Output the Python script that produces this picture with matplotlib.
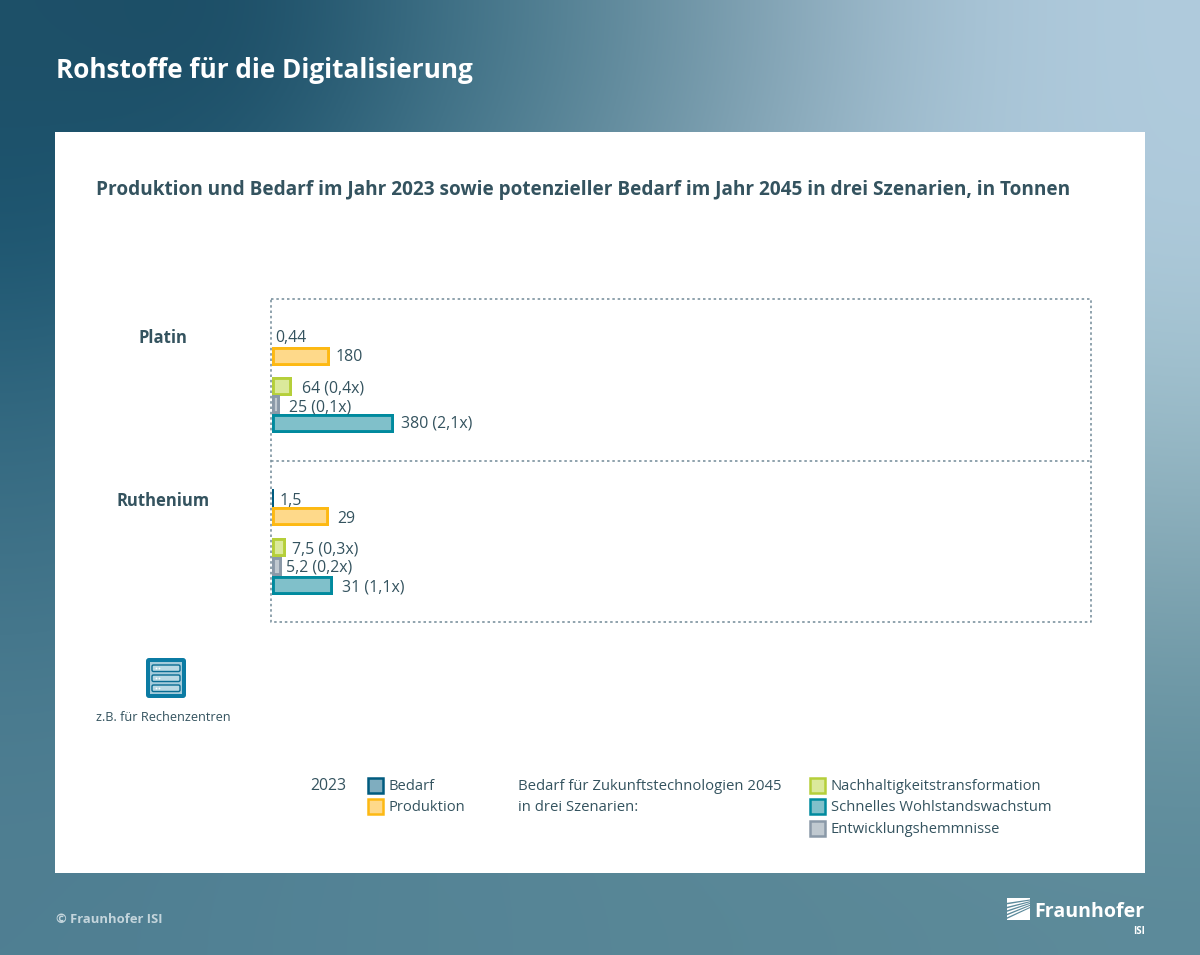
import numpy as np
import matplotlib
matplotlib.use("Agg")
import matplotlib.pyplot as plt
from matplotlib.patches import Rectangle, FancyBboxPatch, Polygon

plt.rcParams['font.family'] = ['Open Sans', 'DejaVu Sans']

# ---- data ----
metals = ["Platin", "Ruthenium"]
series = ["Bedarf", "Produktion", "Nachhaltigkeitstransformation", "Entwicklungshemmnisse", "Schnelles Wohlstandswachstum"]
platin_values = [0.44, 180, 64, 25, 380]
ruthenium_values = [1.5, 29, 7.5, 5.2, 31]
platin_labels = ["0,44", "180", "64 (0,4x)", "25 (0,1x)", "380 (2,1x)"]
ruthenium_labels = ["1,5", "29", "7,5 (0,3x)", "5,2 (0,2x)", "31 (1,1x)"]

# ---- style ----
W, H = 1200, 955
TXT = "#34535f"
edges = ["#005b7f", "#fdb913", "#b5cf3a", "#8a99a8", "#008a9e"]
faces = ["#7fadbf", "#fed98a", "#dbe99b", "#c0c9d0", "#80c0ca"]
platin_y = [338, 356, 386, 404.5, 423]
ruthenium_y = [498.5, 517, 548, 567, 586]
platin_off = [4, 6, 10, 9, 7]
ruthenium_off = [5, 8, 6, 4, 9]
platin_dy = [0, 1, 2, 2.5, 0]
ruthenium_dy = [2.5, 2, 2, 1, 2]

fig = plt.figure(figsize=(W / 100, H / 100), dpi=100)
bg = fig.add_axes([0, 0, 1, 1])
bg.set_xlim(0, W); bg.set_ylim(H, 0); bg.axis("off")

# background gradient
grid = np.array([
    ["#1e5068", "#1a4c65", "#3a6d83", "#5c8799", "#84a4b5", "#a6c2d4", "#b0cbdd"],
    ["#1c5570", "#2a627a", "#4a7c90", "#6a92a3", "#8eaebe", "#a9c6d7", "#aecadb"],
    ["#31677f", "#3f7489", "#527f93", "#6a92a3", "#82a6b5", "#93b5c3", "#9dbecb"],
    ["#3f7288", "#47788d", "#527f93", "#608a9b", "#6f96a6", "#7ea2b0", "#84a8b5"],
    ["#4b7c90", "#4f8094", "#558497", "#5a8798", "#5f8b9b", "#648f9e", "#6995a3"],
    ["#507f92", "#528295", "#558496", "#578696", "#598797", "#5b8998", "#5c8a9a"],
])
rgb = np.array([[matplotlib.colors.to_rgb(c) for c in r] for r in grid])
bg.imshow(rgb, extent=(0, W, H, 0), aspect="auto", interpolation="bicubic", zorder=0)
bg.set_xlim(0, W); bg.set_ylim(H, 0)

bg.add_patch(Rectangle((55, 132), 1090, 741, fc="white", ec="none", zorder=1))

# dashed frame
dash = dict(color="#7d93a0", lw=1.2, ls=(0, (1.5, 1.7)), zorder=2)
bg.plot([271, 1091, 1091, 271, 271], [299, 299, 622, 622, 299], **dash)
bg.plot([271, 1091], [461, 461], **dash)

bg.text(56, 70, "Rohstoffe für die Digitalisierung", color="white", fontsize=18.85, fontweight="bold",
        va="center", zorder=3)
bg.text(96, 190, "Produktion und Bedarf im Jahr 2023 sowie potenzieller Bedarf im Jahr 2045 in drei Szenarien, in Tonnen",
        color=TXT, fontsize=13.66, fontweight="bold", va="center", zorder=3)
bg.text(163, 338, metals[0], color=TXT, fontsize=12, fontweight="bold", ha="center", va="center", zorder=3)
bg.text(163, 501, metals[1], color=TXT, fontsize=12, fontweight="bold", ha="center", va="center", zorder=3)


def panel(y0, y1, px_per_unit, values, labels, ys, offs, dys):
    ax = fig.add_axes([271.5 / W, 1 - y1 / H, (1091 - 271.5) / W, (y1 - y0) / H])
    ax.patch.set_alpha(0)
    ax.set_xlim(0, (1091 - 271.5) / px_per_unit)
    ax.set_ylim(y1, y0)
    ax.axis("off")
    bars = ax.barh(ys, values, height=19, color=faces, edgecolor=edges, linewidth=4.2, zorder=2)
    for b in bars:
        b.set_clip_path(b)
    for v, lab, y, o, d in zip(values, labels, ys, offs, dys):
        ax.annotate(lab, (v, y), xytext=(o * 0.72, -d * 0.72), textcoords="offset points",
                    color=TXT, fontsize=11.4, va="center", ha="left", zorder=3)


panel(299, 461, 0.323, platin_values, platin_labels, platin_y, platin_off, platin_dy)
panel(461, 622, 1.99, ruthenium_values, ruthenium_labels, ruthenium_y, ruthenium_off, ruthenium_dy)

# icon
bg.add_patch(FancyBboxPatch((148, 660), 36, 36, boxstyle="round,pad=2,rounding_size=3",
                            fc="#0b7ba3", ec="none", zorder=2))
bg.add_patch(Rectangle((150, 662), 32, 32, fc="#a3cbdb", ec="none", zorder=2))
for y in (665, 675, 685):
    bg.add_patch(FancyBboxPatch((152, y), 28, 6.5, boxstyle="round,pad=0,rounding_size=1.5",
                                fc="#b9d9e4", ec="#0a6d92", lw=1.0, zorder=3))
    bg.plot([155.5, 158.5], [y + 3.2, y + 3.2], ls="none", marker="o", ms=1.2, mew=0, color="white", zorder=4)
bg.text(163, 717.5, "z.B. für Rechenzentren", color=TXT, fontsize=9.2, ha="center", va="center", zorder=3)


# legend
def swatch(x, y, i):
    bg.add_patch(Rectangle((x + 0.9, y + 0.9), 14.6, 14.6, fc=faces[i], ec=edges[i], lw=1.8, zorder=3))


leg_fs = 10.62
bg.text(310, 786, "2023", color=TXT, fontsize=11.4, va="center", zorder=3)
swatch(367, 777, 0)
bg.text(389, 786, series[0], color=TXT, fontsize=leg_fs, va="center", zorder=3)
swatch(367, 798, 1)
bg.text(389, 807, series[1], color=TXT, fontsize=leg_fs, va="center", zorder=3)
bg.text(518, 786, "Bedarf für Zukunftstechnologien 2045", color=TXT, fontsize=10.75, va="center", zorder=3)
bg.text(518, 807, "in drei Szenarien:", color=TXT, fontsize=10.75, va="center", zorder=3)
swatch(809, 777, 2)
bg.text(831, 786, series[2], color=TXT, fontsize=leg_fs, va="center", zorder=3)
swatch(809, 798, 4)
bg.text(831, 807, series[4], color=TXT, fontsize=leg_fs, va="center", zorder=3)
swatch(809, 820, 3)
bg.text(831, 829, series[3], color=TXT, fontsize=leg_fs, va="center", zorder=3)

# footer
bg.text(56, 919, "© Fraunhofer ISI", color="#c4d5dc", fontsize=9.4, fontweight="bold", va="center", zorder=3)
bg.add_patch(Rectangle((1007, 898), 23, 22, fc="white", ec="none", zorder=3))
for a, b in [(0.22, 0.12), (0.40, 0.26), (0.56, 0.40), (0.72, 0.56), (0.88, 0.74)]:
    bg.add_patch(Polygon([(1007, 898 + 22 * a), (1030, 898 + 22 * (b * 0.55)),
                          (1030, 898 + 22 * (b * 0.55 + 0.05)), (1007, 898 + 22 * (a + 0.07))],
                         fc="#5b8a9b", ec="none", zorder=4))
bg.text(1145, 912, "Fraunhofer", color="white", fontsize=14.1, fontweight="bold", ha="right", va="center", zorder=3)
bg.text(1145, 931, "ISI", color="white", fontsize=7, fontweight="bold", ha="right", va="center", zorder=3)

fig.savefig("out.png", dpi=100)
